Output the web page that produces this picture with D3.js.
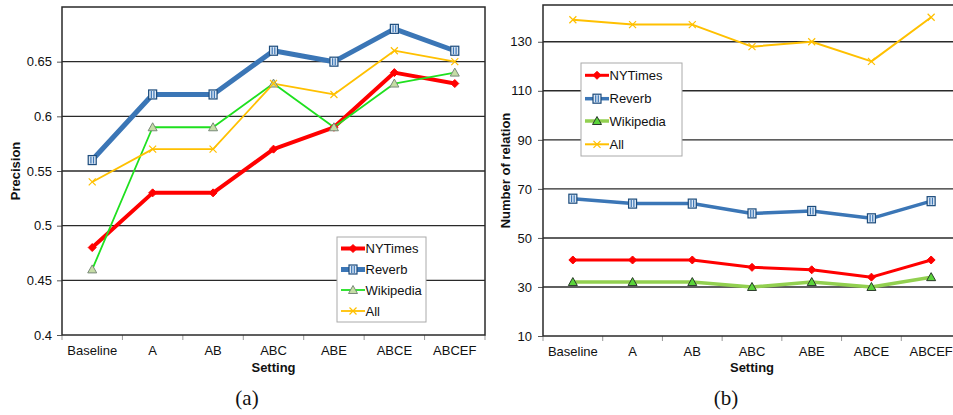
<!DOCTYPE html>
<html>
<head>
<meta charset="utf-8">
<script src="https://cdn.jsdelivr.net/npm/d3@7/dist/d3.min.js"></script>
<style>
  html, body { margin: 0; padding: 0; background: #fff; }
  svg { display: block; font-family: "Liberation Sans", Arial, sans-serif; }
</style>
</head>
<body>
<svg id="chart" width="953" height="415"></svg>
<script>
// ---------- DATA ----------
const categories = ["Baseline", "A", "AB", "ABC", "ABE", "ABCE", "ABCEF"];
const seriesNames = ["NYTimes", "Reverb", "Wikipedia", "All"];

const precisionNYTimes   = [0.48, 0.53, 0.53, 0.57, 0.59, 0.64, 0.63];
const precisionReverb    = [0.56, 0.62, 0.62, 0.66, 0.65, 0.68, 0.66];
const precisionWikipedia = [0.46, 0.59, 0.59, 0.63, 0.59, 0.63, 0.64];
const precisionAll       = [0.54, 0.57, 0.57, 0.63, 0.62, 0.66, 0.65];

const relationNYTimes   = [41, 41, 41, 38, 37, 34, 41];
const relationReverb    = [66, 64, 64, 60, 61, 58, 65];
const relationWikipedia = [32, 32, 32, 30, 32, 30, 34];
const relationAll       = [139, 137, 137, 128, 130, 122, 140];

const precisionTicks = [0.4, 0.45, 0.5, 0.55, 0.6, 0.65];
const precisionDomain = [0.4, 0.7];
const relationTicks = [10, 30, 50, 70, 90, 110, 130];
const relationDomain = [10, 145];

// ---------- DRAW ----------
const svg = d3.select("#chart");

function drawMarker(g, type, x, y, st) {
  if (type === "diamond") {
    const s = st.size;
    g.append("path")
      .attr("d", `M${x},${y - s}L${x + s},${y}L${x},${y + s}L${x - s},${y}Z`)
      .attr("fill", st.color).attr("stroke", st.color).attr("stroke-width", 1);
  } else if (type === "square") {
    g.append("rect").attr("x", x - 4).attr("y", y - 4.5).attr("width", 8).attr("height", 9)
      .attr("fill", "#dbe7f4").attr("stroke", "#1d4c7c").attr("stroke-width", 1.2);
    g.append("line").attr("x1", x - 1.3).attr("x2", x - 1.3).attr("y1", y - 3.5).attr("y2", y + 3.5)
      .attr("stroke", "#3b76b6").attr("stroke-width", 1.2);
    g.append("line").attr("x1", x + 1.3).attr("x2", x + 1.3).attr("y1", y - 3.5).attr("y2", y + 3.5)
      .attr("stroke", "#3b76b6").attr("stroke-width", 1.2);
  } else if (type === "triangle") {
    g.append("path")
      .attr("d", `M${x},${y - 4.5}L${x + 4.5},${y + 3.5}L${x - 4.5},${y + 3.5}Z`)
      .attr("fill", st.mfill).attr("stroke", st.mstroke).attr("stroke-width", 1);
  } else if (type === "cross") {
    const s = 3.5;
    g.append("path")
      .attr("d", `M${x - s},${y - s}L${x + s},${y + s}M${x - s},${y + s}L${x + s},${y - s}`)
      .attr("stroke", st.color).attr("stroke-width", 1.2).attr("fill", "none");
  }
}

function drawChart(cfg) {
  const g = svg.append("g");
  const x = d3.scaleBand().domain(categories).range([cfg.left, cfg.right]).padding(0);
  const y = d3.scaleLinear().domain(cfg.domain).range([cfg.bottom, cfg.top]);
  const cx = d => x(d) + x.bandwidth() / 2;

  // gridlines
  g.append("g").selectAll("line").data(cfg.ticks.filter(t => t !== cfg.domain[0]))
    .join("line")
    .attr("x1", cfg.left).attr("x2", cfg.right)
    .attr("y1", d => y(d)).attr("y2", d => y(d))
    .attr("stroke", "#2a2a2a").attr("stroke-width", 1.4);

  // y axis
  const ya = g.append("g").attr("transform", `translate(${cfg.left},0)`)
    .call(d3.axisLeft(y).tickValues(cfg.ticks).tickSize(5).tickPadding(cfg.yPad)
      .tickFormat(cfg.fmt));
  ya.select(".domain").remove();
  ya.selectAll(".tick line").attr("stroke", "#555");
  ya.selectAll("text").attr("font-size", 13).attr("fill", "#111")
    .attr("font-family", "Liberation Sans, Arial, sans-serif");

  // x axis labels
  const xa = g.append("g").attr("transform", `translate(0,${cfg.bottom})`)
    .call(d3.axisBottom(x).tickSize(0).tickPadding(11));
  xa.select(".domain").remove();
  xa.selectAll("text").attr("font-size", 13).attr("fill", "#111")
    .attr("font-family", "Liberation Sans, Arial, sans-serif");
  // x tick marks at band boundaries
  const bounds = categories.map(d => x(d)).concat([cfg.right]);
  g.append("g").selectAll("line").data(bounds).join("line")
    .attr("x1", d => d).attr("x2", d => d)
    .attr("y1", cfg.bottom).attr("y2", cfg.bottom + 5)
    .attr("stroke", "#999").attr("stroke-width", 1);

  // frame
  g.append("rect")
    .attr("x", cfg.left).attr("y", cfg.top)
    .attr("width", cfg.right - cfg.left).attr("height", cfg.bottom - cfg.top)
    .attr("fill", "none").attr("stroke", "#2a2a2a").attr("stroke-width", 1.5);

  // series
  const line = d3.line().x((d, i) => cx(categories[i])).y(d => y(d));
  cfg.series.forEach(s => {
    g.append("path").datum(s.values)
      .attr("d", line).attr("fill", "none")
      .attr("stroke", s.color).attr("stroke-width", s.width)
      .attr("stroke-linejoin", "round");
  });
  cfg.series.forEach(s => {
    s.values.forEach((v, i) => drawMarker(g, s.marker, cx(categories[i]), y(v), s));
  });

  // axis titles
  g.append("text")
    .attr("transform", `translate(${cfg.yTitleX},${(cfg.top + cfg.bottom) / 2}) rotate(-90)`)
    .attr("text-anchor", "middle").attr("font-size", 13).attr("font-weight", "bold")
    .attr("fill", "#111").text(cfg.yTitle);
  g.append("text")
    .attr("x", cfg.titleCenter).attr("y", 372)
    .attr("text-anchor", "middle").attr("font-size", 13).attr("font-weight", "bold")
    .attr("fill", "#111").text("Setting");

  // caption
  g.append("text")
    .attr("x", cfg.captionX).attr("y", 405)
    .attr("text-anchor", "middle").attr("font-size", 21)
    .attr("font-family", "Liberation Serif, Times New Roman, serif")
    .attr("fill", "#111").text(cfg.caption);

  // legend
  const L = cfg.legend;
  const lg = g.append("g");
  lg.append("rect").attr("x", L.x).attr("y", L.y).attr("width", L.w).attr("height", L.h)
    .attr("fill", "#fff").attr("stroke", "#aaa").attr("stroke-width", 1);
  cfg.series.forEach((s, i) => {
    const yy = L.rows[i];
    lg.append("line").attr("x1", L.x + 4).attr("x2", L.x + 28)
      .attr("y1", yy).attr("y2", yy)
      .attr("stroke", s.color).attr("stroke-width", s.width);
    drawMarker(lg, s.marker, L.x + 16, yy, s);
    lg.append("text").attr("x", L.x + 28.5).attr("y", yy).attr("dy", "0.35em")
      .attr("font-size", 13).attr("fill", "#111").text(seriesNames[i]);
  });
}

drawChart({
  left: 62, right: 485, top: 7, bottom: 335,
  domain: precisionDomain, ticks: precisionTicks, fmt: d3.format(""),
  yPad: 5, yTitle: "Precision", yTitleX: 20, titleCenter: 273.5,
  caption: "(a)", captionX: 247,
  legend: { x: 337, y: 237, w: 89, h: 85, rows: [248.5, 269.5, 290, 311] },
  series: [
    { values: precisionNYTimes, color: "#ff0000", width: 4, marker: "diamond", size: 4 },
    { values: precisionReverb, color: "#3b76b6", width: 5, marker: "square" },
    { values: precisionWikipedia, color: "#1fe01f", width: 1.8, marker: "triangle",
      mfill: "#c5dca5", mstroke: "#7a8a7a" },
    { values: precisionAll, color: "#ffc000", width: 1.8, marker: "cross" }
  ]
});

drawChart({
  left: 543, right: 961, top: 5, bottom: 336,
  domain: relationDomain, ticks: relationTicks, fmt: d3.format("d"),
  yPad: 6, yTitle: "Number of relation", yTitleX: 510, titleCenter: 752,
  caption: "(b)", captionX: 726,
  legend: { x: 581, y: 63, w: 101, h: 93, rows: [75.3, 98.7, 121, 144.3] },
  series: [
    { values: relationNYTimes, color: "#ff0000", width: 3, marker: "diamond", size: 4 },
    { values: relationReverb, color: "#3b76b6", width: 3.5, marker: "square" },
    { values: relationWikipedia, color: "#92d050", width: 3.5, marker: "triangle",
      mfill: "#5ad43a", mstroke: "#2a3a2a" },
    { values: relationAll, color: "#ffc000", width: 2, marker: "cross" }
  ]
});
</script>
</body>
</html>
